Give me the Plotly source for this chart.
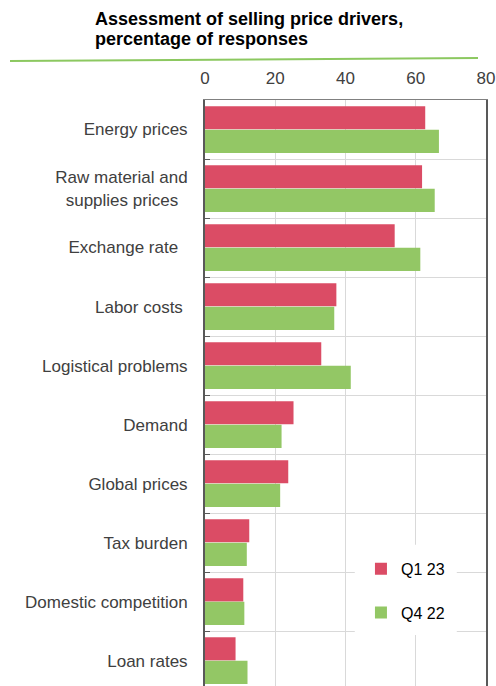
import plotly.graph_objects as go

# drivers, top to bottom
drivers = ["Energy prices", "Raw material and<br>supplies prices\u00a0\u00a0", "Exchange rate\u00a0\u00a0",
           "Labor costs\u00a0", "Logistical problems", "Demand", "Global prices",
           "Tax burden", "Domestic competition", "Loan rates"]
q1_23 = [62.7, 61.8, 54.0, 37.4, 33.1, 25.2, 23.7, 12.6, 10.9, 8.7]
q4_22 = [66.6, 65.4, 61.3, 36.8, 41.5, 21.8, 21.4, 11.9, 11.2, 12.1]
x_ticks = [0, 20, 40, 60, 80]

red = "#DB4C65"
green = "#93C765"

W, H = 496, 686
PW, PH = 281, 586  # plot area size

fig = go.Figure()
fig.add_trace(go.Bar(y=drivers, x=q1_23, name="Q1 23", orientation="h",
                     marker=dict(color=red, line=dict(width=0)), legendgroup="a"))
fig.add_trace(go.Bar(y=drivers, x=q4_22, name="Q4 22", orientation="h",
                     marker=dict(color=green, line=dict(width=0)), legendgroup="b"))

fig.update_layout(
    width=W, height=H,
    margin=dict(l=205, r=10, t=100, b=0, autoexpand=False),
    plot_bgcolor="white", paper_bgcolor="white",
    barmode="group", bargap=0.2, bargroupgap=0.02,
    font=dict(family="Liberation Sans, Arial", size=17, color="#404040"),
    legend=dict(x=0.555, y=0.229, xanchor="left", yanchor="top",
                bgcolor="rgba(0,0,0,0)", tracegroupgap=20, itemwidth=30,
                font=dict(size=16, color="black")),
    showlegend=True,
)

# title, two lines (y of line centres ~19 and ~39 px from top)
for txt, yc in [("Assessment of selling price drivers,", 19),
                ("percentage of responses", 39)]:
    fig.add_annotation(
        text="<b>" + txt + "</b>", xref="paper", yref="paper",
        x=(93 - 205) / PW, y=1 + (100 - yc) / PH,
        xanchor="left", yanchor="middle", align="left", showarrow=False,
        font=dict(size=18, color="black"))

fig.update_xaxes(side="top", range=[0, 80], tickvals=x_ticks, automargin=False,
                 showgrid=True, gridcolor="#D9D9D9", gridwidth=1,
                 showline=True, linecolor="#808080", linewidth=1,
                 ticks="", ticklabelstandoff=8, zeroline=False)
fig.update_yaxes(type="category", range=[9.43, -0.5], tickson="boundaries", automargin=False,
                 showgrid=True, gridcolor="#D9D9D9", gridwidth=1,
                 showline=True, linecolor="#595959", linewidth=2, mirror=True,
                 ticks="inside", ticklen=5, tickcolor="#595959",
                 ticklabelstandoff=12)

# white box behind legend
fig.add_shape(type="rect", xref="paper", yref="paper",
              x0=0.533, x1=0.896, y0=0.087, y1=0.241,
              fillcolor="white", line=dict(width=0), layer="above")
# green rule under title
fig.add_shape(type="line", xref="paper", yref="paper",
              x0=-195 / PW, y0=1 + 39 / PH, x1=273 / PW, y1=1 + 42 / PH,
              line=dict(color="#8CC860", width=2))

# page body: no default margin, no scrollbars; no modebar
fig.write_html("out.html", config={"displayModeBar": False},
               post_script="document.body.style.margin='0';document.body.style.overflow='hidden';")
